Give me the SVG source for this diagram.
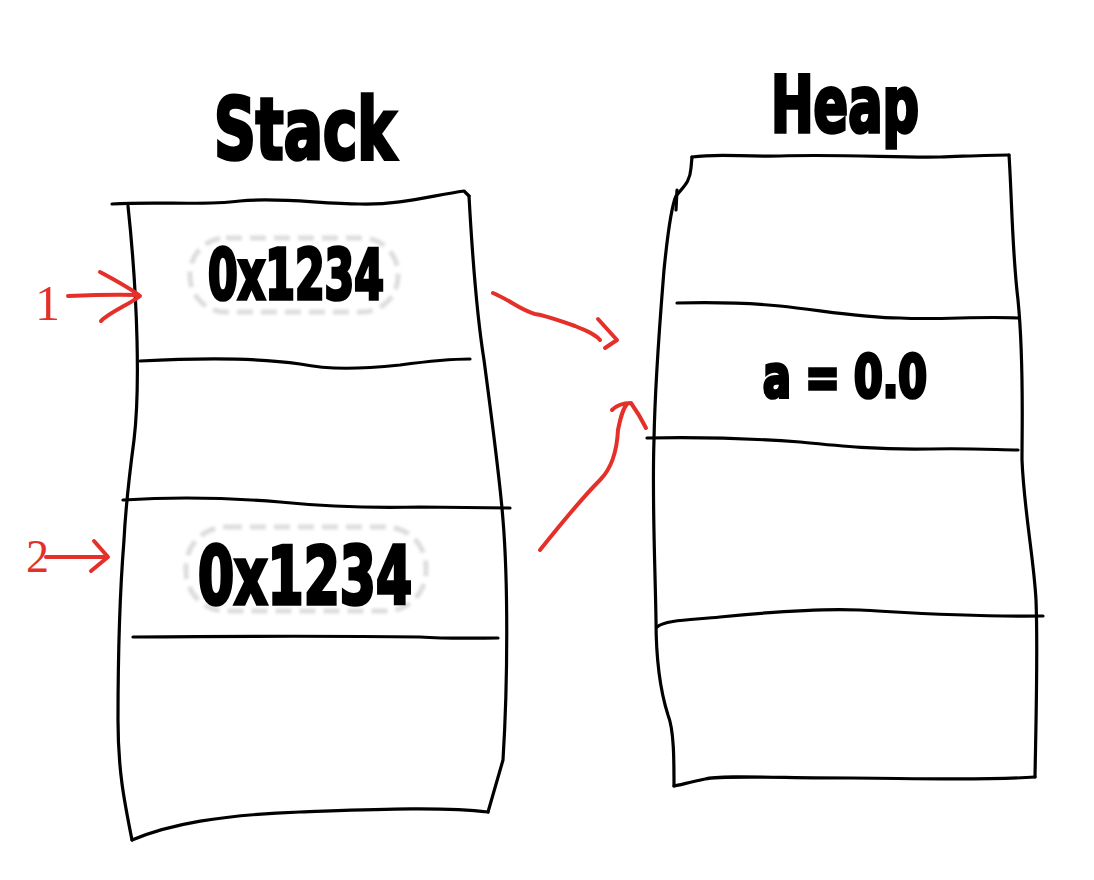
<svg xmlns="http://www.w3.org/2000/svg" width="1094" height="880" viewBox="0 0 1094 880">
<defs>
<style>
.ink{fill:none;stroke:#000;stroke-width:3.2;stroke-linecap:round;stroke-linejoin:round}
.red{fill:none;stroke:#e5302a;stroke-width:4;stroke-linecap:round;stroke-linejoin:round}
.big{font-family:"Liberation Sans Narrow","DejaVu Sans Condensed","Liberation Sans",sans-serif;font-weight:bold;fill:#000;stroke:#000;stroke-width:3.6;paint-order:stroke;text-anchor:middle}
.halo{fill:#fff;stroke:#dddddd;stroke-width:5;stroke-dasharray:16 8;filter:url(#soft)}
.num{font-family:"Liberation Serif",serif;fill:#e5302a}
</style>
<filter id="soft" x="-10%" y="-20%" width="120%" height="140%"><feGaussianBlur stdDeviation="1.5"/></filter>
</defs>
<rect width="1094" height="880" fill="#fff"/>

<g id="stack-title"><text class="big" x="305" y="159" font-size="86" textLength="182" lengthAdjust="spacingAndGlyphs">Stack</text></g>
<g id="heap-title"><text class="big" x="845" y="132" font-size="78" textLength="148" lengthAdjust="spacingAndGlyphs">Heap</text></g>

<g id="stack">
<path class="ink" d="M112,204 C160,201 200,206 240,201 C280,197 320,204 360,204 C400,205 430,196 464,191 L469,196"/>
<path class="ink" d="M469,196 C472,250 476,310 484,360 C492,420 500,480 503,520 C508,580 508,680 503,760 L488,812"/>
<path class="ink" d="M488,812 C440,806 360,810 300,812 C220,815 170,824 132,840"/>
<path class="ink" d="M132,840 C124,800 118,770 118,720 C118,650 120,590 124,540 C126,500 130,470 134,440 C140,390 138,300 128,206"/>
<path class="ink" d="M140,361 C200,358 260,358 300,364 C330,370 360,369 400,365 C430,361 450,359 470,359"/>
<path class="ink" d="M123,500 C170,497 220,497 280,502 C330,507 380,508 420,507 L510,508"/>
<path class="ink" d="M133,637 C250,636 350,636 420,637 C450,639 480,638 498,638"/>
<rect class="halo" x="190" y="238" width="208" height="74" rx="36"/>
<text class="big" x="296" y="299" font-size="70" textLength="176" lengthAdjust="spacingAndGlyphs">0x1234</text>
<rect class="halo" x="186" y="527" width="240" height="84" rx="40"/>
<text class="big" x="305" y="604" font-size="80" textLength="214" lengthAdjust="spacingAndGlyphs">0x1234</text>
</g>

<g id="heap">
<path class="ink" d="M692,157 C720,153 740,157 780,156 C840,154 900,158 940,157 C970,156 990,155 1009,155"/>
<path class="ink" d="M1009,155 C1012,200 1012,250 1018,300 C1024,360 1022,420 1022,460 C1024,510 1034,560 1036,600 C1038,650 1036,720 1035,777"/>
<path class="ink" d="M1035,777 C980,781 900,778 850,778 C780,778 720,775 705,779 C690,782 680,785 674,786"/>
<path class="ink" d="M674,786 C674,760 674,730 668,715 C660,690 656,660 656,620 C655,560 652,500 654,440 C655,380 660,320 664,270 C668,230 672,205 676,196 C684,186 690,182 691,168 L692,157"/>
<path class="ink" d="M677,190 L676,210"/>
<path class="ink" d="M677,303 C720,302 750,303 780,306 C820,310 860,318 900,318 C940,320 980,316 1018,318"/>
<path class="ink" d="M647,438 C700,437 760,439 800,442 C840,446 880,450 930,449 C970,448 1000,450 1018,450"/>
<path class="ink" d="M657,627 C665,620 690,620 720,617 C770,612 820,608 860,610 C900,612 960,617 1043,616"/>
<text class="big" x="845" y="397" font-size="58" textLength="164" lengthAdjust="spacingAndGlyphs">a = 0.0</text>
</g>

<g id="labels">
<text class="num" x="35" y="320" font-size="50">1</text>
<text class="num" x="26" y="572" font-size="46" font-family="Liberation Sans,sans-serif">2</text>
</g>

<g id="connectors">
<path class="red" d="M68,296 C90,295 115,294 138,295"/>
<path class="red" d="M100,272 C115,280 130,288 140,296 C130,304 110,312 101,321"/>
<path class="red" d="M46,557 L104,557"/>
<path class="red" d="M94,541 L108,557 L91,571"/>
<path class="red" d="M493,293 C510,300 520,310 535,314 C548,316 560,321 575,326 C585,330 595,334 600,340"/>
<path class="red" d="M598,319 L617,340 L605,348"/>
<path class="red" d="M540,550 C560,525 580,500 600,480 C612,468 617,450 618,430 C620,420 622,410 627,404"/>
<path class="red" d="M612,410 C618,404 624,403 631,403 C636,410 642,420 646,428"/>
</g>
</svg>
